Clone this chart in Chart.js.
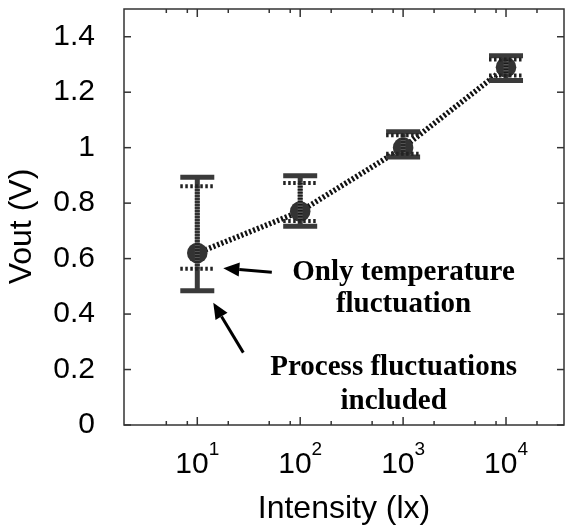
<!DOCTYPE html>
<html>
<head>
<meta charset="utf-8">
<script src="https://cdn.jsdelivr.net/npm/chart.js@4"></script>
<style>
  html, body { margin: 0; padding: 0; background: #fff; }
  canvas { display: block; }
</style>
</head>
<body>
<canvas id="voutChart" width="565" height="526"></canvas>
<script>
// light intensity (lx) and measured output voltage (V)
const intensity = [10, 100, 1000, 10000];
const vout = [0.62, 0.77, 1.0, 1.29];

// process fluctuations included (outer, solid bars)
const procHigh = [0.893, 0.899, 1.057, 1.331];
const procLow = [0.484, 0.717, 0.966, 1.242];

// only temperature fluctuation (inner, dashed bars)
const tempHigh = [0.861, 0.873, 1.045, 1.318];
const tempLow = [0.563, 0.736, 0.978, 1.26];

// axis ticks
const yTicks = [0, 0.2, 0.4, 0.6, 0.8, 1.0, 1.2, 1.4];
const xMajor = [10, 100, 1000, 10000];
const xExponents = ['1', '2', '3', '4'];
const xMinor = [5, 8, 20, 50, 80, 200, 500, 800, 2000, 5000, 8000, 20000];

// annotation anchors in data units [intensity, volts]
const tempArrow = [[53, 0.551], [17.9, 0.565]];
const procArrow = [[28, 0.261], [14.3, 0.441]];
const tempLabel = { at: 1010, lines: ['Only temperature', 'fluctuation'], y: [0.523, 0.407] };
const procLabel = { at: 810, lines: ['Process fluctuations', 'included'], y: [0.18, 0.058] };

function line(ctx, x1, y1, x2, y2) {
    ctx.beginPath();
    ctx.moveTo(x1, y1);
    ctx.lineTo(x2, y2);
    ctx.stroke();
}

function arrow(ctx, x1, y1, x2, y2) {
    const a = Math.atan2(y2 - y1, x2 - x1);
    const len = 16, half = 7;
    const bx = x2 - len * Math.cos(a), by = y2 - len * Math.sin(a);
    ctx.lineWidth = 3;
    line(ctx, x1, y1, bx, by);
    ctx.beginPath();
    ctx.moveTo(x2, y2);
    ctx.lineTo(bx + half * Math.sin(a), by - half * Math.cos(a));
    ctx.lineTo(bx - half * Math.sin(a), by + half * Math.cos(a));
    ctx.closePath();
    ctx.fill();
}

// no extra room for labels, the frame is fixed
function noPadding(s) {
    s.paddingTop = 0;
    s.paddingBottom = 0;
    s.paddingLeft = 0;
    s.paddingRight = 0;
}

// box, inward tick marks, x tick labels with exponents, y title
const framePlugin = {
    id: 'frame',
    afterDraw(chart) {
        const { ctx, chartArea: a, scales: { x, y } } = chart;
        ctx.save();
        ctx.strokeStyle = '#333';
        ctx.lineWidth = 1.5;
        ctx.strokeRect(a.left, a.top, a.right - a.left, a.bottom - a.top);

        yTicks.forEach(v => {
            const py = y.getPixelForValue(v);
            line(ctx, a.left, py, a.left + 7, py);
            line(ctx, a.right, py, a.right - 7, py);
        });
        xMajor.forEach(v => {
            const px = x.getPixelForValue(v);
            line(ctx, px, a.bottom, px, a.bottom - 8);
            line(ctx, px, a.top, px, a.top + 8);
        });
        xMinor.forEach(v => {
            const px = x.getPixelForValue(v);
            line(ctx, px, a.bottom, px, a.bottom - 4);
            line(ctx, px, a.top, px, a.top + 4);
        });

        ctx.fillStyle = '#000';
        ctx.textBaseline = 'alphabetic';
        ctx.textAlign = 'left';
        xMajor.forEach((v, i) => {
            const px = x.getPixelForValue(v);
            ctx.font = '30px "Liberation Sans"';
            const w1 = ctx.measureText('10').width;
            ctx.font = '19px "Liberation Sans"';
            const w2 = ctx.measureText(xExponents[i]).width;
            const start = px - (w1 + w2) / 2;
            ctx.font = '30px "Liberation Sans"';
            ctx.fillText('10', start, 473);
            ctx.font = '19px "Liberation Sans"';
            ctx.fillText(xExponents[i], start + w1, 455);
        });

        ctx.translate(31, 226.5);
        ctx.rotate(-Math.PI / 2);
        ctx.textAlign = 'center';
        ctx.font = '32px "Liberation Sans"';
        ctx.fillText('Vout (V)', 0, 0);
        ctx.restore();
    }
};

// two error bars per point, drawn over the markers
const errorBarPlugin = {
    id: 'errorBars',
    afterDatasetsDraw(chart) {
        const { ctx, scales: { x, y } } = chart;
        ctx.save();
        intensity.forEach((v, i) => {
            const px = x.getPixelForValue(v);
            const oHi = y.getPixelForValue(procHigh[i]);
            const oLo = y.getPixelForValue(procLow[i]);
            const tHi = y.getPixelForValue(tempHigh[i]);
            const tLo = y.getPixelForValue(tempLow[i]);

            ctx.strokeStyle = '#3a3a3a';
            ctx.setLineDash([]);
            ctx.lineWidth = 5;
            line(ctx, px, oHi, px, tHi);
            line(ctx, px, tLo, px, oLo);
            line(ctx, px - 17, oHi, px + 17, oHi);
            line(ctx, px - 17, oLo, px + 17, oLo);

            // hatched inner stem: grey base with dark stripes
            ctx.strokeStyle = 'rgba(90,90,90,0.85)';
            line(ctx, px, tHi, px, tLo);
            ctx.strokeStyle = '#1a1a1a';
            ctx.setLineDash([1.6, 1.4]);
            line(ctx, px, tHi, px, tLo);

            ctx.strokeStyle = '#222';
            ctx.setLineDash([2.5, 2.5]);
            ctx.lineWidth = 4;
            line(ctx, px - 17, tHi, px + 17, tHi);
            line(ctx, px - 17, tLo, px + 17, tLo);
        });
        ctx.restore();
    }
};

// arrows and bold captions
const notesPlugin = {
    id: 'notes',
    afterDraw(chart) {
        const { ctx, scales: { x, y } } = chart;
        ctx.save();
        ctx.strokeStyle = '#000';
        ctx.fillStyle = '#000';
        [tempArrow, procArrow].forEach(([from, to]) => {
            arrow(ctx, x.getPixelForValue(from[0]), y.getPixelForValue(from[1]),
                x.getPixelForValue(to[0]), y.getPixelForValue(to[1]));
        });
        ctx.font = 'bold 29px "Liberation Serif"';
        ctx.textAlign = 'center';
        ctx.textBaseline = 'alphabetic';
        [tempLabel, procLabel].forEach(lbl => {
            const px = x.getPixelForValue(lbl.at);
            lbl.lines.forEach((t, k) => ctx.fillText(t, px, y.getPixelForValue(lbl.y[k])));
        });
        ctx.restore();
    }
};

const ctx = document.getElementById('voutChart').getContext('2d');

new Chart(ctx, {
    type: 'line',
    data: {
        datasets: [{
            data: intensity.map((v, i) => ({ x: v, y: vout[i] })),
            borderColor: '#111',
            borderWidth: 5.5,
            borderDash: [2.2, 2.1],
            pointRadius: 10.3,
            pointBackgroundColor: '#333',
            pointBorderColor: '#333',
            pointBorderWidth: 0,
            fill: false,
            tension: 0
        }]
    },
    options: {
        responsive: false,
        animation: false,
        devicePixelRatio: 1,
        layout: { autoPadding: false, padding: { top: 9, right: 1, left: 0, bottom: 0 } },
        plugins: { legend: { display: false }, tooltip: { enabled: false } },
        scales: {
            x: {
                type: 'logarithmic',
                min: 1.94,
                max: 36600,
                grid: { display: false },
                border: { display: false },
                ticks: { display: false },
                title: {
                    display: true,
                    text: 'Intensity (lx)',
                    color: '#000',
                    font: { family: 'Liberation Sans', size: 32, lineHeight: 1 },
                    padding: { top: 0, bottom: 1 }
                },
                afterFit: s => { s.height = 101; noPadding(s); }
            },
            y: {
                min: 0,
                max: 1.5,
                grid: { display: false },
                border: { display: false },
                afterBuildTicks: s => { s.ticks = yTicks.map(v => ({ value: v })); },
                ticks: {
                    padding: 21,
                    color: '#000',
                    font: { family: 'Liberation Sans', size: 30 },
                    callback: v => String(+v.toFixed(1))
                },
                afterFit: s => { s.width = 124; noPadding(s); }
            }
        }
    },
    plugins: [errorBarPlugin, framePlugin, notesPlugin]
});
</script>
</body>
</html>
